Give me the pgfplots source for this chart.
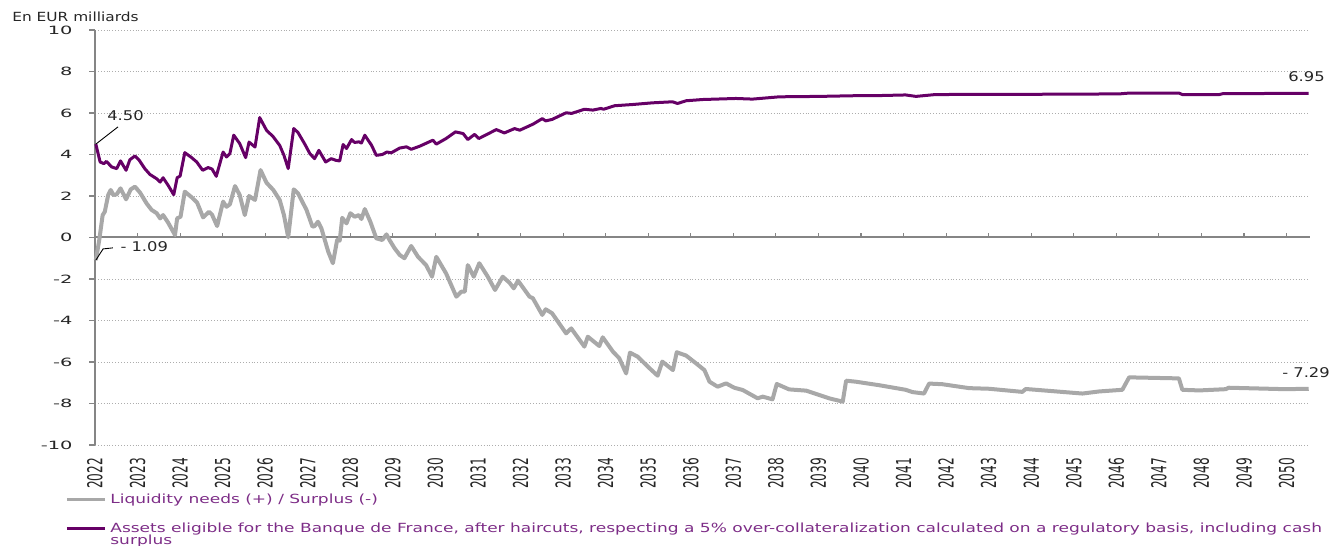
\documentclass[border=0pt]{standalone}
\usepackage{fontspec}
\newfontfamily\plainfont{DejaVu Sans}
\newfontfamily\legfont{DejaVu Sans}[FakeStretch=1.35]
\newfontfamily\annfont{DejaVu Sans}[FakeStretch=1.22]
\newfontfamily\yearfont{DejaVu Sans}[FakeStretch=0.59]
\newfontfamily\tickfont{DejaVu Sans}[FakeStretch=1.7]
\usepackage{pgfplots}
\pgfplotsset{compat=1.18}

\definecolor{liqgray}{RGB}{168,168,168}
\definecolor{assetpurple}{RGB}{102,0,102}
\definecolor{legpurple}{RGB}{125,45,135}

% x values are years after 2022 (0 = 2022)
\begin{document}
\begin{tikzpicture}
\useasboundingbox (-47.5pt,-50.5pt) rectangle (619.5pt,222.5pt);
\begin{axis}[
    width=607.5pt, height=207.5pt, scale only axis,
    xmin=0, xmax=28.55, ymin=-10, ymax=10,
    clip=false,
    axis x line=bottom, axis y line=left,
    axis line style={draw=none},
    xtick={0,1,...,28},
    xticklabels={2022,2023,2024,2025,2026,2027,2028,2029,2030,2031,2032,2033,2034,2035,2036,2037,2038,2039,2040,2041,2042,2043,2044,2045,2046,2047,2048,2049,2050},
    ytick={-10,-8,...,10},
    yticklabels={-10,-8,-6,-4,-2,0,2,4,6,8,10},
    tick style={draw=none},
    tick align=outside,
    major tick length=3pt,
    yticklabel style={font=\tickfont\fontsize{5.7}{7}\selectfont, text=black!85, anchor=east, xshift=-4.7pt},
    xticklabel style={font=\yearfont\fontsize{10.3}{11}\selectfont, text=black!85, rotate=90, anchor=east},
    legend style={at={(-0.0247,-0.107)}, anchor=north west, draw=none, fill=none,
        font=\legfont\fontsize{6.3}{6.3}\selectfont, text=legpurple,
        cells={anchor=base west}, row sep=4.2pt, inner sep=0pt},
    legend image code/.code={\draw[#1, line width=1.5pt] (0pt,2pt) -- (19pt,2pt);},
  ]
  % dotted gridlines, axis lines and tick marks
  \pgfplotsinvokeforeach{-10,-8,-6,-4,-2,2,4,6,8,10}{
    \addplot[black!32, densely dotted, line width=0.45pt, forget plot] coordinates {(0,#1) (28.55,#1)};
  }
  \addplot[black!48, line width=1pt, forget plot] coordinates {(0,0) (28.55,0)};
  \addplot[black!48, line width=1pt, forget plot] coordinates {(0,-10) (0,10)};
  \addplot[ycomb, black!48, line width=0.55pt, forget plot] coordinates {
    (1,0.2) (2,0.2) (3,0.2) (4,0.2) (5,0.2) (6,0.2) (7,0.2) (8,0.2) (9,0.2) (10,0.2)
    (11,0.2) (12,0.2) (13,0.2) (14,0.2) (15,0.2) (16,0.2) (17,0.2) (18,0.2) (19,0.2) (20,0.2)
    (21,0.2) (22,0.2) (23,0.2) (24,0.2) (25,0.2) (26,0.2) (27,0.2) (28,0.2)
  };
  \addplot[xcomb, black!48, line width=0.55pt, forget plot] coordinates {
    (-0.14,-10) (-0.14,-8) (-0.14,-6) (-0.14,-4) (-0.14,-2) (-0.14,0)
    (-0.14,2) (-0.14,4) (-0.14,6) (-0.14,8) (-0.14,10)
  };

  \addplot[liqgray, line width=2pt, line join=round] coordinates {
    (0.02,-1.09) (0.10,-0.12) (0.18,1.08) (0.23,1.24) (0.31,2.05) (0.37,2.29)
    (0.43,2.05) (0.51,2.08) (0.60,2.37) (0.73,1.84) (0.84,2.32) (0.94,2.45)
    (1.06,2.16) (1.21,1.65) (1.33,1.33) (1.45,1.17) (1.53,0.92) (1.60,1.08)
    (1.72,0.71) (1.88,0.12) (1.93,0.92) (2.01,1.00) (2.11,2.21) (2.27,1.94)
    (2.40,1.68) (2.54,0.97) (2.68,1.24) (2.75,1.10) (2.87,0.55) (3.01,1.73)
    (3.09,1.48) (3.17,1.60) (3.29,2.48) (3.40,2.05) (3.52,1.08) (3.62,2.00)
    (3.76,1.81) (3.89,3.25) (4.03,2.64) (4.19,2.29) (4.34,1.81) (4.44,1.08)
    (4.54,0.01) (4.67,2.32) (4.77,2.13) (4.97,1.33) (5.11,0.52) (5.16,0.55)
    (5.24,0.76) (5.32,0.44) (5.48,-0.68) (5.59,-1.24) (5.69,-0.12) (5.75,-0.15)
    (5.81,0.95) (5.91,0.68) (6.00,1.17) (6.10,1.00) (6.20,1.08) (6.26,0.89)
    (6.34,1.37) (6.47,0.76) (6.61,-0.04) (6.75,-0.12) (6.85,0.15) (6.92,-0.12)
    (7.04,-0.52) (7.16,-0.84) (7.27,-1.00) (7.43,-0.41) (7.59,-0.93) (7.78,-1.33)
    (7.92,-1.89) (8.02,-0.93) (8.25,-1.73) (8.49,-2.85) (8.61,-2.61) (8.69,-2.61)
    (8.76,-1.33) (8.90,-1.89) (9.03,-1.24) (9.23,-1.89) (9.40,-2.53) (9.58,-1.89)
    (9.74,-2.18) (9.84,-2.45) (9.94,-2.08) (10.21,-2.85) (10.29,-2.93) (10.51,-3.73)
    (10.59,-3.46) (10.74,-3.65) (11.07,-4.62) (11.19,-4.38) (11.50,-5.26) (11.58,-4.78)
    (11.85,-5.23) (11.93,-4.81) (12.17,-5.50) (12.32,-5.82) (12.48,-6.55) (12.57,-5.55)
    (12.75,-5.74) (13.03,-6.30) (13.22,-6.66) (13.33,-5.98) (13.58,-6.39) (13.67,-5.53)
    (13.89,-5.69) (14.12,-6.06) (14.32,-6.39) (14.44,-6.95) (14.63,-7.19) (14.83,-7.03)
    (15.02,-7.24) (15.22,-7.35) (15.57,-7.75) (15.69,-7.67) (15.92,-7.80) (16.02,-7.06)
    (16.31,-7.32) (16.71,-7.38) (17.25,-7.75) (17.57,-7.91) (17.65,-6.90) (17.88,-6.95)
    (18.43,-7.12) (19.05,-7.34) (19.21,-7.45) (19.48,-7.52) (19.60,-7.04) (19.91,-7.07)
    (20.54,-7.26) (21.01,-7.29) (21.79,-7.44) (21.87,-7.30) (23.20,-7.52) (23.59,-7.42)
    (24.14,-7.34) (24.30,-6.74) (25.47,-6.79) (25.55,-7.34) (25.95,-7.37) (26.57,-7.31)
    (26.64,-7.24) (27.97,-7.31) (28.52,-7.29)
  };
  \addlegendentry{Liquidity needs (+) / Surplus (-)}

  \addplot[assetpurple, line width=1.5pt, line join=round] coordinates {
    (0.02,4.50) (0.12,3.64) (0.21,3.56) (0.27,3.67) (0.39,3.40) (0.51,3.32)
    (0.60,3.69) (0.73,3.24) (0.82,3.75) (0.94,3.93) (1.04,3.72) (1.17,3.32)
    (1.29,3.04) (1.45,2.83) (1.53,2.67) (1.60,2.88) (1.72,2.51) (1.85,2.06)
    (1.93,2.88) (2.00,2.96) (2.11,4.09) (2.27,3.85) (2.39,3.64) (2.53,3.24)
    (2.66,3.37) (2.75,3.30) (2.85,2.95) (3.01,4.12) (3.09,3.88) (3.17,4.05)
    (3.26,4.93) (3.40,4.53) (3.54,3.85) (3.62,4.60) (3.76,4.36) (3.87,5.78)
    (4.03,5.17) (4.19,4.85) (4.34,4.44) (4.44,3.96) (4.54,3.32) (4.67,5.25)
    (4.77,5.06) (4.93,4.50) (5.05,4.04) (5.16,3.80) (5.26,4.20) (5.42,3.64)
    (5.55,3.80) (5.66,3.72) (5.75,3.69) (5.83,4.48) (5.91,4.29) (6.03,4.72)
    (6.10,4.58) (6.20,4.61) (6.26,4.55) (6.34,4.93) (6.50,4.44) (6.61,3.96)
    (6.75,4.00) (6.86,4.12) (6.96,4.08) (7.16,4.31) (7.32,4.37) (7.43,4.25)
    (7.63,4.40) (7.94,4.69) (8.02,4.50) (8.25,4.77) (8.47,5.09) (8.65,5.01)
    (8.76,4.72) (8.92,4.97) (9.02,4.77) (9.43,5.20) (9.62,5.04) (9.86,5.25)
    (9.98,5.17) (10.29,5.46) (10.51,5.73) (10.59,5.62) (10.74,5.69) (11.07,6.01)
    (11.20,5.98) (11.50,6.18) (11.70,6.14) (11.89,6.22) (11.95,6.18) (12.21,6.35)
    (12.64,6.41) (13.10,6.49) (13.57,6.54) (13.69,6.46) (13.89,6.59) (14.28,6.65)
    (15.06,6.70) (15.45,6.67) (16.08,6.78) (17.02,6.80) (18.03,6.84) (18.43,6.84)
    (19.05,6.87) (19.29,6.80) (19.75,6.89) (21.87,6.90) (24.07,6.92) (24.30,6.96)
    (25.47,6.96) (25.55,6.89) (26.42,6.89) (26.50,6.93) (28.52,6.95)
  };
  \addlegendentry{\parbox[t]{700pt}{Assets eligible for the Banque de France, after haircuts, respecting a 5\% over-collateralization calculated on a regulatory basis, including cash\\surplus}}

  % value callouts
  \draw[black, line width=0.45pt] (axis cs:0.02,4.50) -- (axis cs:0.54,5.33);
  \node[anchor=west, inner sep=0pt, font=\annfont\fontsize{6.7}{8}\selectfont, text=black!85] at (axis cs:0.28,5.86) {4.50};
  \draw[black, line width=0.45pt] (axis cs:0.02,-1.09) -- (axis cs:0.19,-0.55) -- (axis cs:0.42,-0.50);
  \node[anchor=west, inner sep=0pt, font=\annfont\fontsize{6.7}{8}\selectfont, text=black!85] at (axis cs:0.59,-0.46) {- 1.09};
  \node[anchor=west, inner sep=0pt, font=\annfont\fontsize{6.7}{8}\selectfont, text=black!85] at (axis cs:28.03,7.75) {6.95};
  \node[anchor=west, inner sep=0pt, font=\annfont\fontsize{6.7}{8}\selectfont, text=black!85] at (axis cs:27.89,-6.53) {- 7.29};
\end{axis}
\node[anchor=west, inner sep=0pt, font=\annfont\fontsize{6.3}{7}\selectfont, text=black!85] at (-41.5pt,214pt) {En EUR milliards};
\end{tikzpicture}
\end{document}
